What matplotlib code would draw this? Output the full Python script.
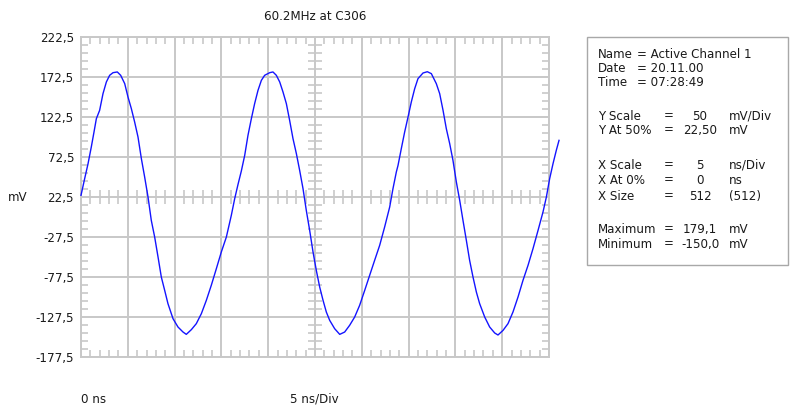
import matplotlib
matplotlib.use("Agg")
import matplotlib.pyplot as plt
import numpy as np
from matplotlib.patches import Rectangle
from matplotlib.ticker import FixedLocator, FuncFormatter

# trace: time in ns, level in mV
time_ns = [
    0.00, 0.39, 0.75, 1.10, 1.39, 1.64, 1.99, 2.35, 2.71, 3.06, 3.42, 3.88,
    4.24, 4.67, 5.02, 5.38, 5.73, 6.09, 6.45, 6.80, 7.16, 7.51, 7.87, 8.23,
    8.58, 8.94, 9.29, 9.83, 10.36, 10.90, 11.25, 11.79, 12.32, 12.86, 13.39,
    13.92, 14.46, 14.99, 15.53, 16.06, 16.42,
    16.77, 17.13, 17.49, 17.84, 18.20, 18.55, 18.91, 19.27, 19.62, 20.16,
    20.51, 20.87, 21.23, 21.58, 21.94, 22.29, 22.65, 23.01, 23.36, 23.72,
    24.07, 24.43, 24.79, 25.14, 25.50, 25.86, 26.21, 26.57, 27.10, 27.64,
    28.17, 28.70, 29.24, 29.77, 30.31, 30.84, 31.37, 31.91, 32.44, 32.98,
    33.33, 33.69,
    33.87, 34.22, 34.58, 34.94, 35.29, 35.65, 36.00, 36.54, 37.00, 37.43,
    37.96, 38.32, 38.68, 39.03, 39.39, 39.74, 40.10, 40.46, 40.81, 41.17,
    41.52, 41.88, 42.24, 42.59, 43.13, 43.66, 44.20, 44.55, 45.09, 45.62,
    46.15, 46.69, 47.22, 47.76, 48.29, 48.83, 49.36, 49.72, 50.07, 50.43,
    50.78, 51.07,
]
level_mv = [
    24.6, 45.4, 64.0, 85.0, 103.8, 120.4, 130.8, 151.7, 166.3, 174.6, 177.9, 178.8,
    174.6, 164.2, 147.5, 132.9, 116.3, 97.5, 70.4, 47.5, 22.5, -6.7, -27.5, -52.5,
    -77.5, -94.2, -110.8, -129.6, -140.0, -146.3, -149.2, -143.3, -135.8, -123.3, -106.7,
    -87.9, -67.1, -46.3, -27.5, -0.4, 20.4,
    38.0, 55.0, 74.6, 99.6, 120.4, 139.2, 155.8, 168.3, 174.6, 177.9,
    178.8, 174.6, 166.3, 153.8, 139.2, 118.3, 95.4, 76.7, 55.8, 32.9,
    5.8, -19.2, -46.3, -69.2, -90.0, -106.7, -121.3, -131.7, -142.1, -149.2,
    -146.3, -137.9, -127.5, -112.9, -94.2, -75.4, -56.7, -37.9, -15.0, 10.0,
    32.9, 53.8,
    62.0, 82.9, 103.8, 122.5, 141.3, 157.9, 170.4, 177.5, 179.1, 176.7,
    164.2, 151.7, 130.8, 107.9, 89.2, 68.3, 41.3, 18.3, -6.7, -31.7,
    -56.7, -77.5, -96.3, -110.8, -127.5, -140.0, -147.5, -150.0, -144.2, -135.8,
    -121.3, -102.5, -81.7, -62.9, -42.1, -19.2, 3.8, 22.5, 45.4, 64.2,
    80.8, 93.3,
]

y_ticks = [222.5, 172.5, 122.5, 72.5, 22.5, -27.5, -77.5, -127.5, -177.5]
x_divs = [0, 5, 10, 15, 20, 25, 30, 35, 40, 45, 50]
title = "60.2MHz at C306"

info_head = [("Name", "= Active Channel 1"), ("Date", "= 20.11.00"), ("Time", "= 07:28:49")]
info_rows = [
    ("Y Scale", "50", "mV/Div"),
    ("Y At 50%", "22,50", "mV"),
    ("X Scale", "5", "ns/Div"),
    ("X At 0%", "0", "ns"),
    ("X Size", "512", "(512)"),
    ("Maximum", "179,1", "mV"),
    ("Minimum", "-150,0", "mV"),
]

W, H = 791, 411
grid_col = "#c8c8c8"
txt_col = "#1a1a1a"
plt.rcParams["font.family"] = ["DejaVu Sans"]
plt.rcParams["font.size"] = 8.6


def px(x, y):
    return x / W, 1 - y / H


fig = plt.figure(figsize=(W / 100, H / 100), dpi=100)
ax = fig.add_axes([81 / W, 1 - 357 / H, 468 / W, 320 / H])

ax.set_xlim(x_divs[0], x_divs[-1])
ax.set_ylim(y_ticks[-1], y_ticks[0])

# grid + frame
ax.xaxis.set_major_locator(FixedLocator(x_divs))
ax.yaxis.set_major_locator(FixedLocator(y_ticks))
ax.grid(True, color=grid_col, lw=1.4)
for sp in ax.spines.values():
    sp.set_color(grid_col)
    sp.set_linewidth(1.4)

# minor ticks: 5 per division, pointing inward on every edge
minor_x = [v for v in np.arange(0, 51, 1) if v % 5 != 0]
minor_y = [v for v in np.arange(y_ticks[-1], y_ticks[0] + 1, 10) if (v - y_ticks[-1]) % 50 != 0]
ax.xaxis.set_minor_locator(FixedLocator(minor_x))
ax.yaxis.set_minor_locator(FixedLocator(minor_y))
ax.tick_params(which="minor", direction="in", length=4.8, width=1.2, color=grid_col,
               top=True, right=True, bottom=True, left=True)
ax.tick_params(which="major", length=0, pad=5, labelsize=8.6, labelcolor=txt_col)
ax.set_xticklabels([])
ax.yaxis.set_major_formatter(FuncFormatter(lambda v, p: f"{v:.1f}".replace(".", ",")))

# tick marks across the two centre lines
xc = x_divs[len(x_divs) // 2]
yc = y_ticks[len(y_ticks) // 2]
ax.plot(minor_x, [yc] * len(minor_x), ls="none", marker="|", ms=9.5, mew=1.2, color=grid_col, zorder=1.5)
ax.plot([xc] * len(minor_y), minor_y, ls="none", marker="_", ms=9.5, mew=1.2, color=grid_col, zorder=1.5)

ax.plot(time_ns, level_mv, color="#1414ff", lw=1.0, clip_on=False, zorder=3)

# texts around the screen
fig.text(*px(315, 17), title, ha="center", va="center", color=txt_col)
fig.text(*px(8, 197), "mV", ha="left", va="center", color=txt_col)
fig.text(*px(81, 399), "0 ns", ha="left", va="center", color=txt_col)
fig.text(*px(314, 399), "5 ns/Div", ha="center", va="center", color=txt_col)

# info panel
fig.add_artist(Rectangle(px(587, 265), 201 / W, 228 / H, transform=fig.transFigure,
                         fill=False, edgecolor="#a8a8a8", lw=1.0))
head_y = [54, 68, 82]
for (lab, val), yy in zip(info_head, head_y):
    fig.text(*px(598, yy), lab, ha="left", va="center", color=txt_col)
    fig.text(*px(637, yy), val, ha="left", va="center", color=txt_col)
row_y = [116, 130, 165, 180, 196, 229, 244]
for (lab, val, unit), yy in zip(info_rows, row_y):
    fig.text(*px(598, yy), lab, ha="left", va="center", color=txt_col)
    fig.text(*px(664, yy), "=", ha="left", va="center", color=txt_col)
    fig.text(*px(700, yy), val, ha="center", va="center", color=txt_col)
    fig.text(*px(729, yy), unit, ha="left", va="center", color=txt_col)

fig.savefig("out.png", dpi=100)
